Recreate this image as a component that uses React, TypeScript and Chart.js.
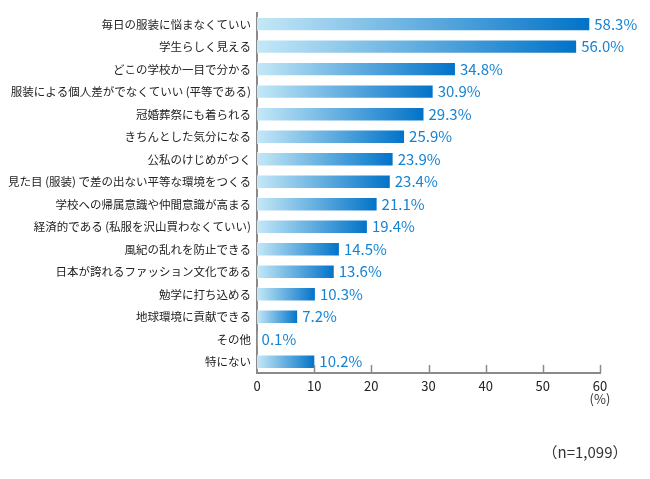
import React, { useEffect, useRef } from "react";
import { Chart, registerables } from "chart.js";

Chart.register(...registerables);

const categories = [
  "毎日の服装に悩まなくていい",
  "学生らしく見える",
  "どこの学校か一目で分かる",
  "服装による個人差がでなくていい (平等である)",
  "冠婚葬祭にも着られる",
  "きちんとした気分になる",
  "公私のけじめがつく",
  "見た目 (服装) で差の出ない平等な環境をつくる",
  "学校への帰属意識や仲間意識が高まる",
  "経済的である (私服を沢山買わなくていい)",
  "風紀の乱れを防止できる",
  "日本が誇れるファッション文化である",
  "勉学に打ち込める",
  "地球環境に貢献できる",
  "その他",
  "特にない",
];
const values = [58.3, 56.0, 34.8, 30.9, 29.3, 25.9, 23.9, 23.4, 21.1, 19.4, 14.5, 13.6, 10.3, 7.2, 0.1, 10.2];
const xTicks = [0, 10, 20, 30, 40, 50, 60];
const unitLabel = "(%)";
const sampleNote = "（n=1,099）";

const JP_FONT = "'Noto Sans CJK JP', 'Noto Sans', sans-serif";

const overlayPlugin = {
  id: "overlay",
  afterDatasetsDraw(chart: any) {
    const ctx = chart.ctx;
    const meta = chart.getDatasetMeta(0);
    const xs = chart.scales.x;
    const area = chart.chartArea;
    ctx.save();
    // tick marks pointing upward
    ctx.strokeStyle = "#8a8a8a";
    ctx.lineWidth = 1.5;
    xTicks.forEach((t) => {
      if (t === 0) return;
      const px = Math.round(xs.getPixelForValue(t)) + 0.5;
      ctx.beginPath();
      ctx.moveTo(px, area.bottom);
      ctx.lineTo(px, area.bottom - 8);
      ctx.stroke();
    });
    // value labels
    ctx.fillStyle = "#1583d3";
    ctx.font = `15px ${JP_FONT}`;
    ctx.textAlign = "left";
    ctx.textBaseline = "middle";
    meta.data.forEach((el: any, i: number) => {
      ctx.fillText(values[i].toFixed(1) + "%", el.x + 4, el.y);
    });
    // unit label
    ctx.fillStyle = "#333";
    ctx.font = `13px ${JP_FONT}`;
    ctx.textAlign = "center";
    ctx.fillText(unitLabel, xs.getPixelForValue(60), area.bottom + 26);
    // sample note
    ctx.font = `15px ${JP_FONT}`;
    ctx.fillText(sampleNote, 585, 452);
    ctx.restore();
  },
};

export default function App() {
  const ref = useRef<HTMLCanvasElement>(null);
  useEffect(() => {
    if (!ref.current) return;
    const chart = new Chart(ref.current, {
      type: "bar",
      data: {
        labels: categories,
        datasets: [
          {
            data: values,
            backgroundColor: (c: any) => {
              const ch = c.chart;
              const xs = ch.scales?.x;
              if (!xs || c.dataIndex === undefined) return "#3a8fd6";
              const x0 = xs.getPixelForValue(0);
              const x1 = xs.getPixelForValue(values[c.dataIndex]);
              if (!isFinite(x0) || !isFinite(x1) || x1 - x0 < 1) return "#bfe5f6";
              const g = ch.ctx.createLinearGradient(x0, 0, x1, 0);
              g.addColorStop(0, "#c4e8f7");
              g.addColorStop(1, "#0072c8");
              return g;
            },
            borderColor: "rgba(255,255,255,0.6)",
            borderWidth: 1,
            borderSkipped: "left",
            barPercentage: 0.64,
            categoryPercentage: 1,
          },
        ],
      },
      options: {
        indexAxis: "y",
        animation: false,
        responsive: false,
        maintainAspectRatio: false,
        layout: { padding: { top: 11, right: 50, bottom: 76, left: 0 } },
        plugins: { legend: { display: false }, tooltip: { enabled: false } },
        scales: {
          x: {
            min: 0,
            max: 60,
            afterBuildTicks: (s: any) => {
              s.ticks = xTicks.map((v) => ({ value: v }));
            },
            afterFit: (s: any) => {
              s.height = 30;
            },
            grid: { display: false, drawTicks: false },
            border: { display: true, color: "#8a8a8a", width: 2 },
            ticks: {
              padding: 5,
              color: "#222",
              font: { size: 13, family: JP_FONT },
            },
          },
          y: {
            afterFit: (s: any) => {
              s.width = 257;
            },
            grid: { display: false, drawTicks: false },
            border: { display: true, color: "#8a8a8a", width: 2 },
            ticks: {
              padding: 6,
              color: "#222",
              font: { size: 11.5, family: JP_FONT },
              autoSkip: false,
            },
          },
        },
      },
      plugins: [overlayPlugin],
    } as any);
    return () => chart.destroy();
  }, []);
  return (
    <div style={{ position: "absolute", left: 0, top: 0, width: 650, height: 479, background: "#fff" }}>
      <canvas ref={ref} width={650} height={479} style={{ width: 650, height: 479 }} />
    </div>
  );
}
